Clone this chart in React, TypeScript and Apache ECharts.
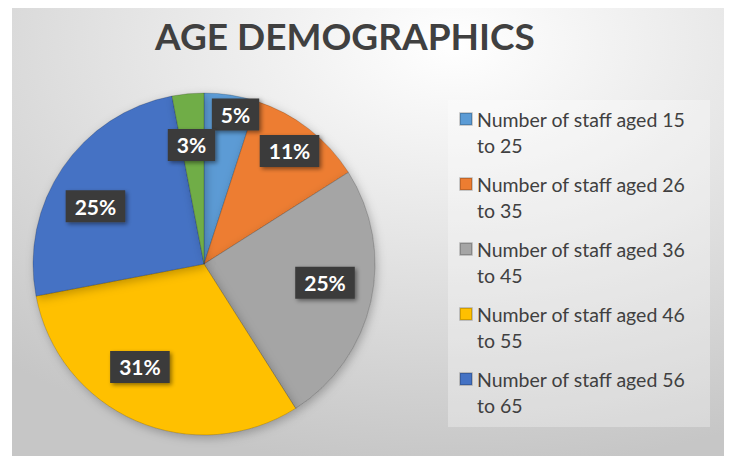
import React, { useEffect, useRef } from 'react';
import * as echarts from 'echarts';

const titleText = 'AGE DEMOGRAPHICS';
const categories = [
  'Number of staff aged 15 to 25',
  'Number of staff aged 26 to 35',
  'Number of staff aged 36 to 45',
  'Number of staff aged 46 to 55',
  'Number of staff aged 56 to 65',
  'Number of staff aged over 65',
];
const values = [5, 11, 25, 31, 25, 3];
const legendItems = categories.slice(0, 5);
const colors = ['#5B9BD5', '#ED7D31', '#A5A5A5', '#FFC000', '#4472C4', '#70AD47'];

// label placement (layout only): fraction of radius and angular nudge in degrees
const labelRadius = [0.894, 0.829, 0.716, 0.709, 0.719, 0.7];
const labelShift = [2.9, -0.7, -3.8, 8.5, -6.2, -0.6];

const CX = 204;
const CY = 264;
const R = 171;

export default function App() {
  const ref = useRef<HTMLDivElement>(null);
  useEffect(() => {
    if (!ref.current) return;
    const chart = echarts.init(ref.current, null, { renderer: 'svg' });
    const total = values.reduce((a, b) => a + b, 0);
    const font = 'Lato, "Open Sans", sans-serif';
    chart.setOption({
      animation: false,
      title: {
        text: titleText,
        left: 155,
        top: 17,
        padding: 0,
        textStyle: { fontFamily: font, fontSize: 37, fontWeight: 'bold', color: '#404040' },
      },
      graphic: [
        {
          type: 'rect',
          z: -10,
          shape: { x: 12, y: 8, width: 712, height: 448 },
          style: {
            fill: new echarts.graphic.RadialGradient(0.62, 0.08, 0.95, [
              { offset: 0, color: '#ffffff' },
              { offset: 0.45, color: '#e6e6e6' },
              { offset: 1, color: '#c6c6c6' },
            ]),
          },
        },
        {
          type: 'rect',
          z: -9,
          shape: { x: 448, y: 100, width: 262, height: 327 },
          style: { fill: 'rgba(255,255,255,0.3)' },
        },
      ],
      legend: {
        data: legendItems,
        orient: 'vertical',
        left: 459,
        top: 109,
        padding: 0,
        itemWidth: 12,
        itemHeight: 12,
        itemGap: 19,
        icon: 'rect',
        formatter: (name: string) => {
          const m = name.match(/^(.*) (to \d+)$/);
          return m ? `{t|${m[1]}}\n{t|${m[2]}}` : `{t|${name}}`;
        },
        textStyle: {
          padding: [26, 0, 0, 0],
          rich: {
            t: {
              fontFamily: font,
              fontSize: 19.5,
              lineHeight: 26,
              color: '#404040',
            },
          },
        },
      },
      series: [
        {
          type: 'pie',
          center: [CX, CY],
          radius: [0, R],
          startAngle: 90,
          clockwise: true,
          percentPrecision: 0,
          data: categories.map((name, i) => ({
            name,
            value: values[i],
            itemStyle: { color: colors[i] },
          })),
          itemStyle: {
            borderColor: 'rgba(0,0,0,0.18)',
            borderWidth: 1,
            shadowBlur: 10,
            shadowColor: 'rgba(0,0,0,0.25)',
            shadowOffsetX: 2,
            shadowOffsetY: 3,
          },
          emphasis: { disabled: true },
          label: {
            show: true,
            position: 'inside',
            formatter: '{d}%',
            fontFamily: font,
            fontSize: 21,
            fontWeight: 'bold',
            color: '#ffffff',
            backgroundColor: '#3b3b3b',
            padding: [6, 9, 5, 9],
            shadowBlur: 4,
            shadowColor: 'rgba(0,0,0,0.45)',
            shadowOffsetX: 2,
            shadowOffsetY: 2,
          },
          labelLine: { show: false },
          labelLayout: (params: any) => {
            const i = params.dataIndex;
            let before = 0;
            for (let k = 0; k < i; k++) before += values[k];
            const mid = ((before + values[i] / 2) / total) * 360 + labelShift[i];
            const a = (mid * Math.PI) / 180;
            const rr = R * labelRadius[i];
            return {
              x: CX + rr * Math.sin(a),
              y: CY - rr * Math.cos(a),
              align: 'center',
              verticalAlign: 'middle',
            };
          },
        },
      ],
    });
    return () => chart.dispose();
  }, []);
  return (
    <div
      ref={ref}
      style={{ position: 'fixed', left: 0, top: 0, width: 731, height: 456, background: '#ffffff' }}
    />
  );
}
